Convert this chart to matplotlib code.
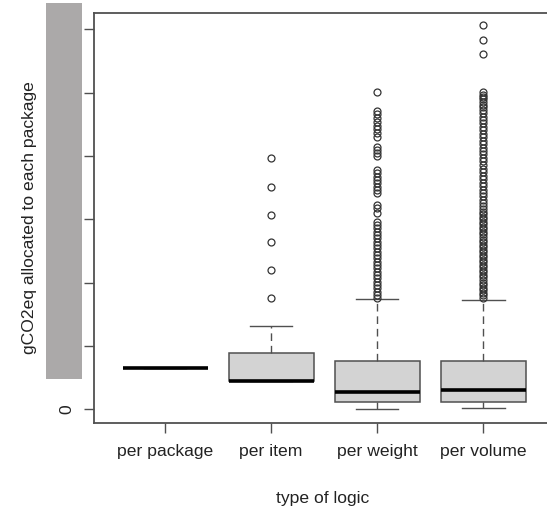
import matplotlib
matplotlib.use("Agg")
import matplotlib.pyplot as plt
from matplotlib.patches import Rectangle

plt.rcParams['font.family'] = ['Liberation Sans', 'DejaVu Sans']

# values in y-tick units (tick labels are hidden in the original except 0)
categories = ['per package', 'per item', 'per weight', 'per volume']
medians = [0.65, 0.44, 0.27, 0.30]
q1 = [0.65, 0.44, 0.11, 0.11]
q3 = [0.65, 0.885, 0.76, 0.76]
whis_lo = [0.65, 0.44, 0.0, 0.02]
whis_hi = [0.65, 1.31, 1.74, 1.72]

out_package = []
out_item = [3.97, 3.51, 3.06, 2.64, 2.20, 1.75]
out_weight = [5.01, 4.71, 4.66, 4.60, 4.53, 4.47, 4.42, 4.36, 4.30, 4.14, 4.09,
              4.04, 4.00, 3.78, 3.73, 3.67, 3.62, 3.57, 3.51, 3.46, 3.41, 3.22,
              3.18, 3.10, 2.95, 2.91, 2.86, 2.80, 2.75, 2.70, 2.64, 2.59, 2.54,
              2.48, 2.43, 2.39, 2.32, 2.27, 2.23, 2.16, 2.12, 2.07, 2.01, 1.96,
              1.91, 1.85, 1.80, 1.75]
out_volume = [6.07, 5.83, 5.61, 5.01, 4.97, 4.93, 4.90, 4.86, 4.81, 4.77, 4.72,
              4.68, 4.62, 4.57, 4.52, 4.46, 4.41, 4.35, 4.30, 4.24, 4.19, 4.13,
              4.08, 4.03, 3.97, 3.92, 3.86, 3.80, 3.74, 3.69, 3.63, 3.58, 3.52,
              3.47, 3.42, 3.36, 3.31, 3.26, 3.21, 3.16, 3.12, 3.08, 3.04, 3.00,
              2.96, 2.92, 2.88, 2.84, 2.80, 2.76, 2.72, 2.68, 2.64, 2.60, 2.56,
              2.52, 2.48, 2.44, 2.40, 2.36, 2.32, 2.28, 2.24, 2.20, 2.16, 2.12,
              2.08, 2.04, 2.00, 1.96, 1.92, 1.88, 1.84, 1.80, 1.76]
outliers = [out_package, out_item, out_weight, out_volume]

ytick_vals = [0, 1, 2, 3, 4, 5, 6]
ytick_labels = ['0', '', '', '', '', '', '']

stats = []
for i in range(len(categories)):
    stats.append(dict(med=medians[i], q1=q1[i], q3=q3[i],
                      whislo=whis_lo[i], whishi=whis_hi[i],
                      fliers=outliers[i], label=categories[i]))

fig = plt.figure(figsize=(5.47, 5.15), dpi=100)
ax = fig.add_axes([94/547, 92/515, 453/547, 410/515])

edge = '#505050'
ax.bxp(stats, positions=[1, 2, 3, 4], widths=0.8, capwidths=0.4,
       patch_artist=True,
       boxprops=dict(facecolor='#d3d3d3', edgecolor=edge, linewidth=1.1),
       medianprops=dict(color='black', linewidth=2.6, solid_capstyle='butt'),
       whiskerprops=dict(color=edge, linewidth=1.0, linestyle=(0, (5.5, 3.5))),
       capprops=dict(color=edge, linewidth=1.0),
       flierprops=dict(marker='o', markersize=5, markerfacecolor='none',
                       markeredgecolor='#333333', markeredgewidth=0.9))

ax.set_xlim(0.33, 4.60)
ax.set_ylim(-0.22, 6.26)
ax.set_yticks(ytick_vals)
ax.set_yticklabels(ytick_labels, rotation=90, va='center', fontsize=12.6,
                   color='#222222')
ax.set_xticks([1, 2, 3, 4])
ax.set_xticklabels(categories, fontsize=12.6, color='#222222')
ax.tick_params(axis='both', length=7, width=1, color=edge, direction='out')
ax.tick_params(axis='x', pad=8)
ax.tick_params(axis='y', pad=7)
ax.spines['right'].set_visible(False)
for s in ['left', 'top', 'bottom']:
    ax.spines[s].set_color(edge)
    ax.spines[s].set_linewidth(1.3)

ax.set_xlabel('type of logic', fontsize=12.6, color='#222222')
ax.xaxis.set_label_coords((323 - 94) / 453, -(491 - 423) / 410)
ax.set_ylabel('gCO2eq allocated to each package', fontsize=12.6,
              color='#222222')
ax.yaxis.set_label_coords(-(94 - 37) / 453, 0.5)

# grey block over the y tick labels, as in the original image
fig.add_artist(Rectangle((46/547, (515 - 379)/515), 36/547, 376/515,
                         transform=fig.transFigure, facecolor='#aba9a9',
                         edgecolor='none', zorder=5))

fig.savefig('out.png', dpi=100)
